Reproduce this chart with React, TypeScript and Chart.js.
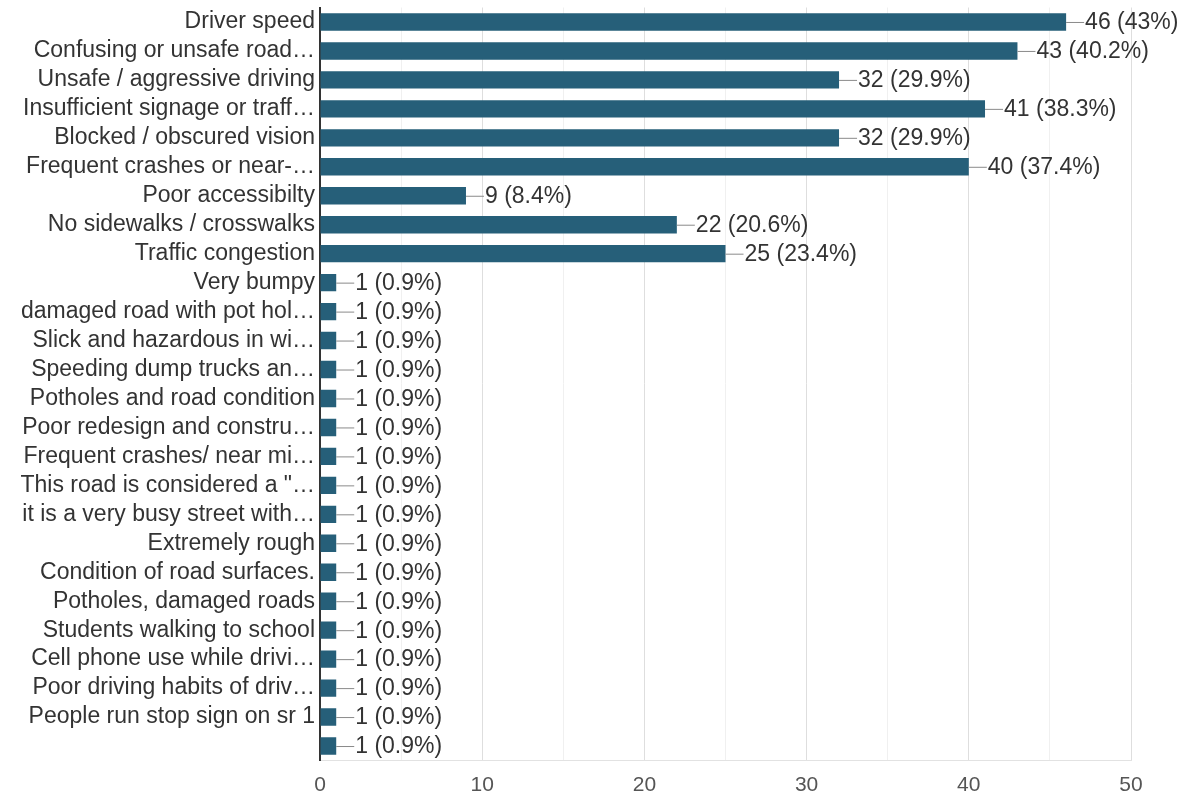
import React, { useEffect, useRef } from "react";
import { Chart, registerables } from "chart.js";

Chart.register(...registerables);

const categories: string[] = [
  "Driver speed",
  "Confusing or unsafe road…",
  "Unsafe / aggressive driving",
  "Insufficient signage or traff…",
  "Blocked / obscured vision",
  "Frequent crashes or near-…",
  "Poor accessibilty",
  "No sidewalks / crosswalks",
  "Traffic congestion",
  "Very bumpy",
  "damaged road with pot hol…",
  "Slick and hazardous in wi…",
  "Speeding dump trucks an…",
  "Potholes and road condition",
  "Poor redesign and constru…",
  "Frequent crashes/ near mi…",
  "This road is considered a \"…",
  "it is a very busy street with…",
  "Extremely rough",
  "Condition of road surfaces.",
  "Potholes, damaged roads",
  "Students walking to school",
  "Cell phone use while drivi…",
  "Poor driving habits of driv…",
  "People run stop sign on sr 1",
  "",
];

const counts: number[] = [46, 43, 32, 41, 32, 40, 9, 22, 25, 1, 1, 1, 1, 1, 1, 1, 1, 1, 1, 1, 1, 1, 1, 1, 1, 1];

const percents: string[] = [
  "43", "40.2", "29.9", "38.3", "29.9", "37.4", "8.4", "20.6", "23.4",
  "0.9", "0.9", "0.9", "0.9", "0.9", "0.9", "0.9", "0.9", "0.9", "0.9",
  "0.9", "0.9", "0.9", "0.9", "0.9", "0.9", "0.9",
];

const xTicks: number[] = [0, 5, 10, 15, 20, 25, 30, 35, 40, 45, 50];

const FONT = "'Liberation Sans', Arial, sans-serif";
const BAR_COLOR = "#265f79";

const valueLabelPlugin = {
  id: "valueLabels",
  afterDatasetsDraw(chart: any) {
    const ctx = chart.ctx;
    const meta = chart.getDatasetMeta(0);
    ctx.save();
    ctx.font = `23px ${FONT}`;
    ctx.textBaseline = "middle";
    ctx.textAlign = "left";
    meta.data.forEach((bar: any, i: number) => {
      const x = bar.x;
      const y = bar.y;
      ctx.strokeStyle = "#8a8a8a";
      ctx.lineWidth = 1;
      ctx.beginPath();
      ctx.moveTo(x, y + 0.5);
      ctx.lineTo(x + 18, y + 0.5);
      ctx.stroke();
      ctx.fillStyle = "#333333";
      ctx.fillText(`${counts[i]} (${percents[i]}%)`, x + 19, y + 1);
    });
    ctx.restore();
  },
};

export default function App() {
  const ref = useRef<HTMLCanvasElement | null>(null);

  useEffect(() => {
    if (!ref.current) return;
    const chart = new Chart(ref.current, {
      type: "bar",
      data: {
        labels: categories,
        datasets: [
          {
            data: counts,
            backgroundColor: BAR_COLOR,
            borderWidth: 0,
            categoryPercentage: 1,
            barPercentage: 0.6,
          },
        ],
      },
      options: {
        indexAxis: "y",
        animation: false,
        responsive: false,
        maintainAspectRatio: false,
        layout: { padding: { top: 7.5, right: 56, bottom: 0, left: 0 } },
        plugins: {
          legend: { display: false },
          tooltip: { enabled: false },
        },
        scales: {
          x: {
            type: "linear",
            min: 0,
            max: 50,
            afterBuildTicks: (scale: any) => {
              scale.ticks = xTicks.map((v) => ({ value: v }));
            },
            afterFit: (scale: any) => {
              scale.height = 42.5;
            },
            ticks: {
              autoSkip: false,
              maxRotation: 0,
              padding: 12,
              color: "#555555",
              font: { family: FONT, size: 21 },
              callback: (v: any) => (Number(v) % 10 === 0 ? String(v) : ""),
            },
            grid: {
              drawTicks: false,
              color: (c: any) =>
                c.tick && c.tick.value % 10 === 0 ? "#dedede" : "#f0f0f0",
              lineWidth: 1,
            },
            border: { color: "#e2e2e2", width: 1 },
          },
          y: {
            afterFit: (scale: any) => {
              scale.width = 320;
              scale.paddingTop = 0;
              scale.paddingBottom = 0;
            },
            ticks: {
              autoSkip: false,
              padding: 5,
              color: "#333333",
              font: { family: FONT, size: 23 },
            },
            grid: { display: false, drawTicks: false },
            border: { color: "#333333", width: 2 },
          },
        },
      },
      plugins: [valueLabelPlugin],
    } as any);
    return () => chart.destroy();
  }, []);

  return (
    <div
      style={{
        position: "absolute",
        left: 0,
        top: 0,
        width: 1187,
        height: 803,
        background: "#ffffff",
      }}
    >
      <canvas ref={ref} width={1187} height={803} />
    </div>
  );
}
